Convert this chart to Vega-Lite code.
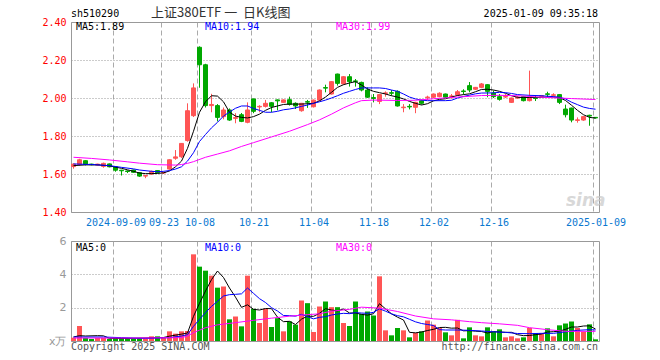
{
  "$schema": "https://vega.github.io/schema/vega-lite/v6.json",
  "background": "white",
  "padding": {"left": 41, "top": 6, "right": 0, "bottom": 0},
  "bounds": "flush",
  "spacing": 29,
  "config": {
    "view": {"stroke": "#999999", "strokeWidth": 1},
    "font": "DejaVu Sans Mono",
    "axis": {"ticks": false, "domain": false, "labelFont": "DejaVu Sans Mono", "labelFontSize": 10, "title": null, "labelOverlap": false}
  },
  "datasets": {
    "k": [
      {"d":"2024-08-29","o":1.639,"h":1.656,"l":1.628,"c":1.652,"v":0.2},
      {"d":"2024-08-30","o":1.650,"h":1.680,"l":1.645,"c":1.675,"v":0.9},
      {"d":"2024-09-02","o":1.670,"h":1.672,"l":1.645,"c":1.650,"v":0.18},
      {"d":"2024-09-03","o":1.652,"h":1.654,"l":1.646,"c":1.649,"v":0.12},
      {"d":"2024-09-04","o":1.647,"h":1.654,"l":1.644,"c":1.652,"v":0.18},
      {"d":"2024-09-05","o":1.640,"h":1.660,"l":1.633,"c":1.656,"v":0.18},
      {"d":"2024-09-06","o":1.653,"h":1.655,"l":1.635,"c":1.638,"v":0.14},
      {"d":"2024-09-09","o":1.638,"h":1.640,"l":1.612,"c":1.620,"v":0.18},
      {"d":"2024-09-10","o":1.620,"h":1.622,"l":1.592,"c":1.617,"v":0.18},
      {"d":"2024-09-11","o":1.616,"h":1.618,"l":1.605,"c":1.613,"v":0.18},
      {"d":"2024-09-12","o":1.621,"h":1.623,"l":1.606,"c":1.609,"v":0.14},
      {"d":"2024-09-13","o":1.607,"h":1.609,"l":1.585,"c":1.589,"v":0.18},
      {"d":"2024-09-18","o":1.589,"h":1.594,"l":1.578,"c":1.592,"v":0.14},
      {"d":"2024-09-19","o":1.600,"h":1.618,"l":1.596,"c":1.614,"v":0.28},
      {"d":"2024-09-20","o":1.618,"h":1.620,"l":1.604,"c":1.607,"v":0.28},
      {"d":"2024-09-23","o":1.605,"h":1.612,"l":1.600,"c":1.608,"v":0.18},
      {"d":"2024-09-24","o":1.626,"h":1.677,"l":1.622,"c":1.675,"v":0.58},
      {"d":"2024-09-25","o":1.683,"h":1.726,"l":1.675,"c":1.690,"v":0.44},
      {"d":"2024-09-26","o":1.691,"h":1.763,"l":1.684,"c":1.761,"v":0.58},
      {"d":"2024-09-27","o":1.776,"h":1.972,"l":1.770,"c":1.933,"v":0.6},
      {"d":"2024-09-30","o":1.907,"h":2.077,"l":1.900,"c":2.053,"v":5.2},
      {"d":"2024-10-08","o":2.267,"h":2.272,"l":2.054,"c":2.175,"v":4.46},
      {"d":"2024-10-09","o":2.175,"h":2.180,"l":1.950,"c":1.960,"v":4.22},
      {"d":"2024-10-10","o":1.960,"h":2.022,"l":1.925,"c":1.966,"v":3.92},
      {"d":"2024-10-11","o":1.960,"h":1.968,"l":1.877,"c":1.898,"v":3.2},
      {"d":"2024-10-14","o":1.902,"h":1.950,"l":1.888,"c":1.937,"v":3.27},
      {"d":"2024-10-15","o":1.937,"h":1.945,"l":1.880,"c":1.884,"v":1.3},
      {"d":"2024-10-16","o":1.893,"h":1.920,"l":1.867,"c":1.897,"v":1.47},
      {"d":"2024-10-17","o":1.912,"h":1.921,"l":1.873,"c":1.877,"v":0.88},
      {"d":"2024-10-18","o":1.872,"h":1.977,"l":1.867,"c":1.937,"v":3.92},
      {"d":"2024-10-21","o":1.995,"h":1.997,"l":1.920,"c":1.930,"v":1.93},
      {"d":"2024-10-22","o":1.953,"h":1.962,"l":1.925,"c":1.956,"v":1.08},
      {"d":"2024-10-23","o":1.956,"h":1.990,"l":1.950,"c":1.972,"v":1.93},
      {"d":"2024-10-24","o":1.975,"h":1.978,"l":1.925,"c":1.956,"v":0.84},
      {"d":"2024-10-25","o":1.990,"h":1.992,"l":1.935,"c":1.985,"v":1.37},
      {"d":"2024-10-28","o":1.977,"h":1.992,"l":1.975,"c":1.990,"v":0.58},
      {"d":"2024-10-29","o":1.991,"h":2.007,"l":1.960,"c":1.967,"v":1.18},
      {"d":"2024-10-30","o":1.972,"h":1.977,"l":1.942,"c":1.958,"v":0.98},
      {"d":"2024-10-31","o":1.933,"h":1.974,"l":1.928,"c":1.972,"v":2.43},
      {"d":"2024-11-01","o":1.981,"h":1.990,"l":1.948,"c":1.978,"v":2.27},
      {"d":"2024-11-04","o":1.954,"h":1.992,"l":1.950,"c":1.989,"v":0.54},
      {"d":"2024-11-05","o":1.989,"h":2.045,"l":1.985,"c":2.042,"v":2.07},
      {"d":"2024-11-06","o":2.055,"h":2.070,"l":2.030,"c":2.052,"v":2.37},
      {"d":"2024-11-07","o":2.021,"h":2.088,"l":2.018,"c":2.086,"v":2.03},
      {"d":"2024-11-08","o":2.126,"h":2.128,"l":2.065,"c":2.077,"v":2.03},
      {"d":"2024-11-11","o":2.074,"h":2.115,"l":2.070,"c":2.112,"v":1.08},
      {"d":"2024-11-12","o":2.112,"h":2.126,"l":2.060,"c":2.086,"v":0.9},
      {"d":"2024-11-13","o":2.090,"h":2.100,"l":2.060,"c":2.087,"v":2.37},
      {"d":"2024-11-14","o":2.082,"h":2.086,"l":2.035,"c":2.042,"v":1.63},
      {"d":"2024-11-15","o":2.042,"h":2.056,"l":2.000,"c":2.004,"v":1.77},
      {"d":"2024-11-18","o":2.002,"h":2.021,"l":1.977,"c":1.998,"v":1.53},
      {"d":"2024-11-19","o":1.982,"h":2.020,"l":1.968,"c":2.018,"v":3.88},
      {"d":"2024-11-20","o":2.024,"h":2.035,"l":2.007,"c":2.027,"v":0.64},
      {"d":"2024-11-21","o":2.028,"h":2.042,"l":2.012,"c":2.025,"v":0.34},
      {"d":"2024-11-22","o":2.035,"h":2.040,"l":1.955,"c":1.958,"v":0.78},
      {"d":"2024-11-25","o":1.949,"h":1.968,"l":1.925,"c":1.952,"v":0.64},
      {"d":"2024-11-26","o":1.956,"h":1.968,"l":1.940,"c":1.953,"v":0.22},
      {"d":"2024-11-27","o":1.951,"h":1.980,"l":1.920,"c":1.977,"v":0.48},
      {"d":"2024-11-28","o":1.986,"h":1.991,"l":1.965,"c":1.972,"v":0.58},
      {"d":"2024-11-29","o":2.002,"h":2.012,"l":1.990,"c":2.005,"v":1.23},
      {"d":"2024-12-02","o":2.004,"h":2.024,"l":2.000,"c":2.021,"v":0.98},
      {"d":"2024-12-03","o":2.007,"h":2.030,"l":2.004,"c":2.025,"v":0.78},
      {"d":"2024-12-04","o":2.021,"h":2.023,"l":2.000,"c":2.004,"v":0.52},
      {"d":"2024-12-05","o":2.008,"h":2.021,"l":1.996,"c":2.011,"v":0.34},
      {"d":"2024-12-06","o":2.016,"h":2.042,"l":2.012,"c":2.033,"v":1.27},
      {"d":"2024-12-09","o":2.037,"h":2.046,"l":2.018,"c":2.034,"v":0.16},
      {"d":"2024-12-10","o":2.065,"h":2.084,"l":2.030,"c":2.042,"v":0.82},
      {"d":"2024-12-11","o":2.046,"h":2.058,"l":2.042,"c":2.056,"v":0.34},
      {"d":"2024-12-12","o":2.056,"h":2.079,"l":2.052,"c":2.074,"v":0.28},
      {"d":"2024-12-13","o":2.070,"h":2.072,"l":2.004,"c":2.035,"v":0.82},
      {"d":"2024-12-16","o":2.026,"h":2.039,"l":2.000,"c":2.007,"v":0.56},
      {"d":"2024-12-17","o":2.007,"h":2.021,"l":1.986,"c":1.993,"v":0.7},
      {"d":"2024-12-18","o":2.005,"h":2.021,"l":2.000,"c":2.008,"v":0.22},
      {"d":"2024-12-19","o":1.977,"h":2.002,"l":1.974,"c":2.000,"v":0.28},
      {"d":"2024-12-20","o":2.000,"h":2.010,"l":1.995,"c":2.004,"v":0.16},
      {"d":"2024-12-23","o":2.007,"h":2.010,"l":1.982,"c":1.986,"v":0.22},
      {"d":"2024-12-24","o":1.986,"h":2.144,"l":1.982,"c":2.004,"v":0.78},
      {"d":"2024-12-25","o":2.002,"h":2.012,"l":1.984,"c":1.998,"v":0.48},
      {"d":"2024-12-26","o":2.009,"h":2.016,"l":2.005,"c":2.012,"v":0.48},
      {"d":"2024-12-27","o":2.022,"h":2.033,"l":2.004,"c":2.019,"v":0.76},
      {"d":"2024-12-30","o":2.014,"h":2.025,"l":2.010,"c":2.017,"v":0.28},
      {"d":"2024-12-31","o":2.018,"h":2.020,"l":1.968,"c":1.977,"v":0.94},
      {"d":"2025-01-02","o":1.942,"h":1.965,"l":1.898,"c":1.912,"v":1.05},
      {"d":"2025-01-03","o":1.947,"h":1.949,"l":1.872,"c":1.884,"v":1.17},
      {"d":"2025-01-06","o":1.882,"h":1.898,"l":1.870,"c":1.885,"v":0.78},
      {"d":"2025-01-07","o":1.884,"h":1.904,"l":1.880,"c":1.902,"v":0.56},
      {"d":"2025-01-08","o":1.909,"h":1.912,"l":1.854,"c":1.905,"v":1.0},
      {"d":"2025-01-09","o":1.898,"h":1.900,"l":1.893,"c":1.895,"v":0.1}
    ],
    "ma": [
      {"d":"2024-08-29","s":"MA5","p":1.644},{"d":"2024-09-02","s":"MA5","p":1.648},{"d":"2024-09-04","s":"MA5","p":1.648},{"d":"2024-09-06","s":"MA5","p":1.643},{"d":"2024-09-09","s":"MA5","p":1.636},{"d":"2024-09-10","s":"MA5","p":1.630},{"d":"2024-09-11","s":"MA5","p":1.622},{"d":"2024-09-12","s":"MA5","p":1.614},{"d":"2024-09-13","s":"MA5","p":1.605},{"d":"2024-09-18","s":"MA5","p":1.602},{"d":"2024-09-19","s":"MA5","p":1.602},{"d":"2024-09-20","s":"MA5","p":1.603},{"d":"2024-09-23","s":"MA5","p":1.606},{"d":"2024-09-24","s":"MA5","p":1.616},{"d":"2024-09-25","s":"MA5","p":1.638},{"d":"2024-09-26","s":"MA5","p":1.668},{"d":"2024-09-27","s":"MA5","p":1.735},{"d":"2024-09-30","s":"MA5","p":1.825},{"d":"2024-10-08","s":"MA5","p":1.925},{"d":"2024-10-09","s":"MA5","p":1.980},{"d":"2024-10-10","s":"MA5","p":2.012},{"d":"2024-10-11","s":"MA5","p":2.010},{"d":"2024-10-14","s":"MA5","p":1.980},{"d":"2024-10-15","s":"MA5","p":1.925},{"d":"2024-10-16","s":"MA5","p":1.905},{"d":"2024-10-17","s":"MA5","p":1.898},{"d":"2024-10-18","s":"MA5","p":1.895},{"d":"2024-10-21","s":"MA5","p":1.902},{"d":"2024-10-22","s":"MA5","p":1.915},{"d":"2024-10-23","s":"MA5","p":1.935},{"d":"2024-10-24","s":"MA5","p":1.950},{"d":"2024-10-25","s":"MA5","p":1.958},{"d":"2024-10-28","s":"MA5","p":1.966},{"d":"2024-10-29","s":"MA5","p":1.968},{"d":"2024-10-30","s":"MA5","p":1.968},{"d":"2024-10-31","s":"MA5","p":1.968},{"d":"2024-11-01","s":"MA5","p":1.970},{"d":"2024-11-04","s":"MA5","p":1.972},{"d":"2024-11-05","s":"MA5","p":1.985},{"d":"2024-11-06","s":"MA5","p":2.005},{"d":"2024-11-07","s":"MA5","p":2.030},{"d":"2024-11-08","s":"MA5","p":2.056},{"d":"2024-11-11","s":"MA5","p":2.070},{"d":"2024-11-12","s":"MA5","p":2.079},{"d":"2024-11-13","s":"MA5","p":2.086},{"d":"2024-11-14","s":"MA5","p":2.068},{"d":"2024-11-15","s":"MA5","p":2.048},{"d":"2024-11-18","s":"MA5","p":2.035},{"d":"2024-11-19","s":"MA5","p":2.028},{"d":"2024-11-20","s":"MA5","p":2.021},{"d":"2024-11-21","s":"MA5","p":2.012},{"d":"2024-11-22","s":"MA5","p":2.005},{"d":"2024-11-25","s":"MA5","p":1.995},{"d":"2024-11-26","s":"MA5","p":1.982},{"d":"2024-11-27","s":"MA5","p":1.972},{"d":"2024-11-28","s":"MA5","p":1.963},{"d":"2024-11-29","s":"MA5","p":1.970},{"d":"2024-12-02","s":"MA5","p":1.985},{"d":"2024-12-03","s":"MA5","p":1.993},{"d":"2024-12-04","s":"MA5","p":1.996},{"d":"2024-12-05","s":"MA5","p":2.005},{"d":"2024-12-06","s":"MA5","p":2.013},{"d":"2024-12-09","s":"MA5","p":2.018},{"d":"2024-12-10","s":"MA5","p":2.022},{"d":"2024-12-11","s":"MA5","p":2.033},{"d":"2024-12-12","s":"MA5","p":2.045},{"d":"2024-12-13","s":"MA5","p":2.046},{"d":"2024-12-16","s":"MA5","p":2.042},{"d":"2024-12-17","s":"MA5","p":2.035},{"d":"2024-12-18","s":"MA5","p":2.025},{"d":"2024-12-19","s":"MA5","p":2.012},{"d":"2024-12-20","s":"MA5","p":2.004},{"d":"2024-12-23","s":"MA5","p":2.002},{"d":"2024-12-24","s":"MA5","p":2.003},{"d":"2024-12-25","s":"MA5","p":2.003},{"d":"2024-12-26","s":"MA5","p":2.004},{"d":"2024-12-27","s":"MA5","p":2.005},{"d":"2024-12-30","s":"MA5","p":2.005},{"d":"2024-12-31","s":"MA5","p":2.002},{"d":"2025-01-02","s":"MA5","p":1.987},{"d":"2025-01-03","s":"MA5","p":1.962},{"d":"2025-01-06","s":"MA5","p":1.935},{"d":"2025-01-07","s":"MA5","p":1.912},{"d":"2025-01-08","s":"MA5","p":1.898},{"d":"2025-01-09","s":"MA5","p":1.894},
      {"d":"2024-08-29","s":"MA10","p":1.653},{"d":"2024-09-03","s":"MA10","p":1.650},{"d":"2024-09-06","s":"MA10","p":1.644},{"d":"2024-09-10","s":"MA10","p":1.635},{"d":"2024-09-12","s":"MA10","p":1.627},{"d":"2024-09-13","s":"MA10","p":1.621},{"d":"2024-09-19","s":"MA10","p":1.614},{"d":"2024-09-20","s":"MA10","p":1.612},{"d":"2024-09-23","s":"MA10","p":1.614},{"d":"2024-09-24","s":"MA10","p":1.618},{"d":"2024-09-25","s":"MA10","p":1.626},{"d":"2024-09-26","s":"MA10","p":1.638},{"d":"2024-09-27","s":"MA10","p":1.668},{"d":"2024-09-30","s":"MA10","p":1.712},{"d":"2024-10-08","s":"MA10","p":1.771},{"d":"2024-10-09","s":"MA10","p":1.808},{"d":"2024-10-10","s":"MA10","p":1.843},{"d":"2024-10-11","s":"MA10","p":1.872},{"d":"2024-10-14","s":"MA10","p":1.905},{"d":"2024-10-15","s":"MA10","p":1.926},{"d":"2024-10-16","s":"MA10","p":1.946},{"d":"2024-10-17","s":"MA10","p":1.958},{"d":"2024-10-18","s":"MA10","p":1.958},{"d":"2024-10-21","s":"MA10","p":1.945},{"d":"2024-10-22","s":"MA10","p":1.935},{"d":"2024-10-23","s":"MA10","p":1.925},{"d":"2024-10-24","s":"MA10","p":1.925},{"d":"2024-10-25","s":"MA10","p":1.930},{"d":"2024-10-28","s":"MA10","p":1.938},{"d":"2024-10-29","s":"MA10","p":1.942},{"d":"2024-10-30","s":"MA10","p":1.948},{"d":"2024-10-31","s":"MA10","p":1.956},{"d":"2024-11-01","s":"MA10","p":1.963},{"d":"2024-11-04","s":"MA10","p":1.972},{"d":"2024-11-05","s":"MA10","p":1.980},{"d":"2024-11-06","s":"MA10","p":1.989},{"d":"2024-11-07","s":"MA10","p":2.000},{"d":"2024-11-08","s":"MA10","p":2.012},{"d":"2024-11-11","s":"MA10","p":2.025},{"d":"2024-11-12","s":"MA10","p":2.035},{"d":"2024-11-13","s":"MA10","p":2.045},{"d":"2024-11-14","s":"MA10","p":2.053},{"d":"2024-11-15","s":"MA10","p":2.053},{"d":"2024-11-18","s":"MA10","p":2.053},{"d":"2024-11-19","s":"MA10","p":2.053},{"d":"2024-11-20","s":"MA10","p":2.050},{"d":"2024-11-21","s":"MA10","p":2.042},{"d":"2024-11-22","s":"MA10","p":2.035},{"d":"2024-11-25","s":"MA10","p":2.021},{"d":"2024-11-26","s":"MA10","p":2.005},{"d":"2024-11-27","s":"MA10","p":1.995},{"d":"2024-11-28","s":"MA10","p":1.989},{"d":"2024-11-29","s":"MA10","p":1.986},{"d":"2024-12-02","s":"MA10","p":1.986},{"d":"2024-12-04","s":"MA10","p":1.986},{"d":"2024-12-05","s":"MA10","p":1.988},{"d":"2024-12-06","s":"MA10","p":2.000},{"d":"2024-12-09","s":"MA10","p":2.008},{"d":"2024-12-10","s":"MA10","p":2.015},{"d":"2024-12-11","s":"MA10","p":2.022},{"d":"2024-12-12","s":"MA10","p":2.026},{"d":"2024-12-16","s":"MA10","p":2.027},{"d":"2024-12-17","s":"MA10","p":2.030},{"d":"2024-12-18","s":"MA10","p":2.028},{"d":"2024-12-19","s":"MA10","p":2.024},{"d":"2024-12-20","s":"MA10","p":2.018},{"d":"2024-12-24","s":"MA10","p":2.014},{"d":"2024-12-26","s":"MA10","p":2.012},{"d":"2024-12-30","s":"MA10","p":2.007},{"d":"2024-12-31","s":"MA10","p":2.004},{"d":"2025-01-02","s":"MA10","p":1.995},{"d":"2025-01-03","s":"MA10","p":1.978},{"d":"2025-01-06","s":"MA10","p":1.965},{"d":"2025-01-07","s":"MA10","p":1.952},{"d":"2025-01-08","s":"MA10","p":1.945},{"d":"2025-01-09","s":"MA10","p":1.941},
      {"d":"2024-08-29","s":"MA30","p":1.688},{"d":"2024-09-03","s":"MA30","p":1.682},{"d":"2024-09-06","s":"MA30","p":1.674},{"d":"2024-09-11","s":"MA30","p":1.664},{"d":"2024-09-13","s":"MA30","p":1.657},{"d":"2024-09-20","s":"MA30","p":1.649},{"d":"2024-09-25","s":"MA30","p":1.647},{"d":"2024-09-26","s":"MA30","p":1.650},{"d":"2024-09-27","s":"MA30","p":1.656},{"d":"2024-09-30","s":"MA30","p":1.665},{"d":"2024-10-09","s":"MA30","p":1.688},{"d":"2024-10-11","s":"MA30","p":1.705},{"d":"2024-10-15","s":"MA30","p":1.722},{"d":"2024-10-17","s":"MA30","p":1.745},{"d":"2024-10-21","s":"MA30","p":1.765},{"d":"2024-10-24","s":"MA30","p":1.795},{"d":"2024-10-29","s":"MA30","p":1.825},{"d":"2024-11-01","s":"MA30","p":1.860},{"d":"2024-11-05","s":"MA30","p":1.885},{"d":"2024-11-07","s":"MA30","p":1.915},{"d":"2024-11-11","s":"MA30","p":1.948},{"d":"2024-11-13","s":"MA30","p":1.975},{"d":"2024-11-14","s":"MA30","p":1.986},{"d":"2024-11-18","s":"MA30","p":1.989},{"d":"2024-11-22","s":"MA30","p":1.987},{"d":"2024-11-27","s":"MA30","p":1.988},{"d":"2024-12-02","s":"MA30","p":1.996},{"d":"2024-12-06","s":"MA30","p":2.005},{"d":"2024-12-12","s":"MA30","p":2.013},{"d":"2024-12-17","s":"MA30","p":2.014},{"d":"2024-12-20","s":"MA30","p":2.012},{"d":"2024-12-25","s":"MA30","p":2.006},{"d":"2024-12-30","s":"MA30","p":2.001},{"d":"2025-01-03","s":"MA30","p":1.997},{"d":"2025-01-09","s":"MA30","p":1.992}
    ],
    "vma": [
      {"d":"2024-08-29","s":"MA5","v":0.24},{"d":"2024-08-30","s":"MA5","v":0.32},{"d":"2024-09-02","s":"MA5","v":0.30},{"d":"2024-09-04","s":"MA5","v":0.32},{"d":"2024-09-05","s":"MA5","v":0.31},{"d":"2024-09-06","s":"MA5","v":0.16},{"d":"2024-09-09","s":"MA5","v":0.16},{"d":"2024-09-12","s":"MA5","v":0.16},{"d":"2024-09-20","s":"MA5","v":0.2},{"d":"2024-09-23","s":"MA5","v":0.21},{"d":"2024-09-24","s":"MA5","v":0.29},{"d":"2024-09-25","s":"MA5","v":0.35},{"d":"2024-09-26","s":"MA5","v":0.41},{"d":"2024-09-27","s":"MA5","v":0.48},{"d":"2024-09-30","s":"MA5","v":1.48},{"d":"2024-10-08","s":"MA5","v":2.26},{"d":"2024-10-09","s":"MA5","v":3.0},{"d":"2024-10-10","s":"MA5","v":3.68},{"d":"2024-10-11","s":"MA5","v":4.2},{"d":"2024-10-14","s":"MA5","v":3.81},{"d":"2024-10-15","s":"MA5","v":3.18},{"d":"2024-10-16","s":"MA5","v":2.63},{"d":"2024-10-17","s":"MA5","v":2.02},{"d":"2024-10-18","s":"MA5","v":2.17},{"d":"2024-10-21","s":"MA5","v":1.9},{"d":"2024-10-22","s":"MA5","v":1.86},{"d":"2024-10-23","s":"MA5","v":1.95},{"d":"2024-10-24","s":"MA5","v":1.94},{"d":"2024-10-25","s":"MA5","v":1.43},{"d":"2024-10-28","s":"MA5","v":1.16},{"d":"2024-10-29","s":"MA5","v":1.18},{"d":"2024-10-30","s":"MA5","v":0.99},{"d":"2024-10-31","s":"MA5","v":1.31},{"d":"2024-11-01","s":"MA5","v":1.49},{"d":"2024-11-04","s":"MA5","v":1.48},{"d":"2024-11-05","s":"MA5","v":1.66},{"d":"2024-11-06","s":"MA5","v":1.94},{"d":"2024-11-07","s":"MA5","v":1.86},{"d":"2024-11-08","s":"MA5","v":1.81},{"d":"2024-11-11","s":"MA5","v":1.92},{"d":"2024-11-12","s":"MA5","v":1.68},{"d":"2024-11-13","s":"MA5","v":1.68},{"d":"2024-11-14","s":"MA5","v":1.6},{"d":"2024-11-15","s":"MA5","v":1.55},{"d":"2024-11-18","s":"MA5","v":1.64},{"d":"2024-11-19","s":"MA5","v":2.24},{"d":"2024-11-20","s":"MA5","v":1.93},{"d":"2024-11-21","s":"MA5","v":1.63},{"d":"2024-11-22","s":"MA5","v":1.43},{"d":"2024-11-25","s":"MA5","v":1.26},{"d":"2024-11-26","s":"MA5","v":0.52},{"d":"2024-11-27","s":"MA5","v":0.49},{"d":"2024-11-28","s":"MA5","v":0.54},{"d":"2024-11-29","s":"MA5","v":0.63},{"d":"2024-12-02","s":"MA5","v":0.70},{"d":"2024-12-03","s":"MA5","v":0.81},{"d":"2024-12-04","s":"MA5","v":0.82},{"d":"2024-12-05","s":"MA5","v":0.77},{"d":"2024-12-06","s":"MA5","v":0.78},{"d":"2024-12-09","s":"MA5","v":0.61},{"d":"2024-12-10","s":"MA5","v":0.62},{"d":"2024-12-11","s":"MA5","v":0.59},{"d":"2024-12-12","s":"MA5","v":0.57},{"d":"2024-12-13","s":"MA5","v":0.48},{"d":"2024-12-16","s":"MA5","v":0.56},{"d":"2024-12-17","s":"MA5","v":0.54},{"d":"2024-12-18","s":"MA5","v":0.52},{"d":"2024-12-19","s":"MA5","v":0.52},{"d":"2024-12-20","s":"MA5","v":0.38},{"d":"2024-12-23","s":"MA5","v":0.32},{"d":"2024-12-24","s":"MA5","v":0.33},{"d":"2024-12-25","s":"MA5","v":0.38},{"d":"2024-12-26","s":"MA5","v":0.42},{"d":"2024-12-27","s":"MA5","v":0.54},{"d":"2024-12-30","s":"MA5","v":0.56},{"d":"2024-12-31","s":"MA5","v":0.59},{"d":"2025-01-02","s":"MA5","v":0.70},{"d":"2025-01-03","s":"MA5","v":0.84},{"d":"2025-01-06","s":"MA5","v":0.84},{"d":"2025-01-07","s":"MA5","v":0.9},{"d":"2025-01-08","s":"MA5","v":0.91},{"d":"2025-01-09","s":"MA5","v":0.72},
      {"d":"2024-08-29","s":"MA10","v":0.24},{"d":"2024-09-05","s":"MA10","v":0.24},{"d":"2024-09-10","s":"MA10","v":0.2},{"d":"2024-09-18","s":"MA10","v":0.16},{"d":"2024-09-24","s":"MA10","v":0.2},{"d":"2024-09-26","s":"MA10","v":0.3},{"d":"2024-09-27","s":"MA10","v":0.38},{"d":"2024-09-30","s":"MA10","v":0.88},{"d":"2024-10-08","s":"MA10","v":1.3},{"d":"2024-10-09","s":"MA10","v":1.7},{"d":"2024-10-10","s":"MA10","v":2.08},{"d":"2024-10-11","s":"MA10","v":2.38},{"d":"2024-10-14","s":"MA10","v":2.7},{"d":"2024-10-15","s":"MA10","v":2.78},{"d":"2024-10-16","s":"MA10","v":2.8},{"d":"2024-10-17","s":"MA10","v":2.83},{"d":"2024-10-18","s":"MA10","v":3.18},{"d":"2024-10-21","s":"MA10","v":2.86},{"d":"2024-10-22","s":"MA10","v":2.54},{"d":"2024-10-23","s":"MA10","v":2.31},{"d":"2024-10-24","s":"MA10","v":2.0},{"d":"2024-10-25","s":"MA10","v":1.8},{"d":"2024-10-28","s":"MA10","v":1.53},{"d":"2024-10-29","s":"MA10","v":1.52},{"d":"2024-10-30","s":"MA10","v":1.49},{"d":"2024-10-31","s":"MA10","v":1.6},{"d":"2024-11-01","s":"MA10","v":1.46},{"d":"2024-11-04","s":"MA10","v":1.33},{"d":"2024-11-05","s":"MA10","v":1.42},{"d":"2024-11-06","s":"MA10","v":1.46},{"d":"2024-11-07","s":"MA10","v":1.56},{"d":"2024-11-08","s":"MA10","v":1.62},{"d":"2024-11-11","s":"MA10","v":1.66},{"d":"2024-11-12","s":"MA10","v":1.64},{"d":"2024-11-13","s":"MA10","v":1.7},{"d":"2024-11-14","s":"MA10","v":1.68},{"d":"2024-11-15","s":"MA10","v":1.66},{"d":"2024-11-18","s":"MA10","v":1.72},{"d":"2024-11-19","s":"MA10","v":1.93},{"d":"2024-11-20","s":"MA10","v":1.79},{"d":"2024-11-21","s":"MA10","v":1.63},{"d":"2024-11-22","s":"MA10","v":1.52},{"d":"2024-11-25","s":"MA10","v":1.45},{"d":"2024-11-26","s":"MA10","v":1.3},{"d":"2024-11-27","s":"MA10","v":1.15},{"d":"2024-11-28","s":"MA10","v":1.05},{"d":"2024-11-29","s":"MA10","v":0.99},{"d":"2024-12-02","s":"MA10","v":0.93},{"d":"2024-12-03","s":"MA10","v":0.68},{"d":"2024-12-04","s":"MA10","v":0.66},{"d":"2024-12-06","s":"MA10","v":0.66},{"d":"2024-12-10","s":"MA10","v":0.64},{"d":"2024-12-12","s":"MA10","v":0.6},{"d":"2024-12-16","s":"MA10","v":0.55},{"d":"2024-12-18","s":"MA10","v":0.52},{"d":"2024-12-20","s":"MA10","v":0.45},{"d":"2024-12-24","s":"MA10","v":0.44},{"d":"2024-12-26","s":"MA10","v":0.46},{"d":"2024-12-30","s":"MA10","v":0.46},{"d":"2025-01-02","s":"MA10","v":0.55},{"d":"2025-01-06","s":"MA10","v":0.64},{"d":"2025-01-08","s":"MA10","v":0.68},{"d":"2025-01-09","s":"MA10","v":0.66},
      {"d":"2024-08-29","s":"MA30","v":0.18},{"d":"2024-09-12","s":"MA30","v":0.18},{"d":"2024-09-26","s":"MA30","v":0.2},{"d":"2024-09-27","s":"MA30","v":0.3},{"d":"2024-09-30","s":"MA30","v":0.5},{"d":"2024-10-08","s":"MA30","v":0.65},{"d":"2024-10-09","s":"MA30","v":0.8},{"d":"2024-10-11","s":"MA30","v":0.97},{"d":"2024-10-16","s":"MA30","v":1.1},{"d":"2024-10-21","s":"MA30","v":1.24},{"d":"2024-10-24","s":"MA30","v":1.37},{"d":"2024-10-29","s":"MA30","v":1.49},{"d":"2024-11-01","s":"MA30","v":1.58},{"d":"2024-11-05","s":"MA30","v":1.63},{"d":"2024-11-07","s":"MA30","v":1.79},{"d":"2024-11-12","s":"MA30","v":1.9},{"d":"2024-11-14","s":"MA30","v":2.03},{"d":"2024-11-19","s":"MA30","v":1.97},{"d":"2024-11-22","s":"MA30","v":1.77},{"d":"2024-11-27","s":"MA30","v":1.5},{"d":"2024-12-02","s":"MA30","v":1.33},{"d":"2024-12-05","s":"MA30","v":1.27},{"d":"2024-12-10","s":"MA30","v":1.16},{"d":"2024-12-12","s":"MA30","v":1.1},{"d":"2024-12-17","s":"MA30","v":1.03},{"d":"2024-12-20","s":"MA30","v":0.94},{"d":"2024-12-24","s":"MA30","v":0.8},{"d":"2024-12-27","s":"MA30","v":0.68},{"d":"2025-01-02","s":"MA30","v":0.58},{"d":"2025-01-09","s":"MA30","v":0.58}
    ]
  },
  "vconcat": [
    {
      "width": 528,
      "height": 190,
      "encoding": {
        "x": {
          "field": "d", "type": "ordinal",
          "scale": {"type": "band", "paddingInner": 0, "paddingOuter": 0},
          "axis": {
            "values": ["2024-09-09","2024-09-23","2024-10-08","2024-10-21","2024-11-04","2024-11-18","2024-12-02","2024-12-16","2025-01-09"],
            "labelExpr": "datum.value == '2024-09-09' || datum.value == '2025-01-09' ? datum.value : slice(datum.value, 5)",
            "bandPosition": 0, "labelAngle": 0, "labelColor": "#0a78d0", "labelPadding": 5, "labelOverlap": false,
            "grid": true, "gridColor": "#aaaaaa", "gridDash": [5, 3]
          }
        }
      },
      "layer": [
        {
          "data": {"name": "k"},
          "mark": {"type": "rule", "strokeWidth": 1, "xOffset": -0.5},
          "encoding": {
            "y": {"field": "l", "type": "quantitative", "scale": {"domain": [1.4, 2.4], "nice": false, "zero": false},
              "axis": {"values": [1.4, 1.6, 1.8, 2.0, 2.2, 2.4], "tickCount": 20, "format": ".2f", "labelColor": "#ff0000", "labelPadding": 5, "labelOverlap": false, "labelFlush": false, "grid": true, "gridColor": "#999999", "gridDash": [1, 2]}},
            "y2": {"field": "h"},
            "color": {"condition": {"test": "datum.c >= datum.o", "value": "#ff5555"}, "value": "#00a800"}
          }
        },
        {
          "data": {"name": "k"},
          "mark": {"type": "bar", "width": 4, "strokeWidth": 1, "xOffset": -0.5},
          "encoding": {
            "y": {"field": "o", "type": "quantitative"},
            "y2": {"field": "c"},
            "fill": {"condition": {"test": "datum.c >= datum.o", "value": "#ff5555"}, "value": "#00a800"},
            "stroke": {"condition": {"test": "datum.c >= datum.o", "value": "#ff5555"}, "value": "#00a800"}
          }
        },
        {
          "data": {"name": "ma"},
          "mark": {"type": "line", "strokeWidth": 1, "xOffset": -0.5},
          "encoding": {
            "y": {"field": "p", "type": "quantitative"},
            "color": {"field": "s", "type": "nominal", "scale": {"domain": ["MA5", "MA10", "MA30"], "range": ["#000000", "#0000ff", "#ff00ff"]}, "legend": null}
          }
        },
        {
          "data": {"values": [{}]},
          "mark": {"type": "text", "text": "sh510290", "align": "left", "baseline": "middle", "fontSize": 10, "font": "DejaVu Sans Mono", "color": "#000000"},
          "encoding": {"x": {"datum": "2024-08-29", "bandPosition": 0}, "y": {"datum": 2.442}}
        },
        {
          "data": {"values": [{}]},
          "mark": {"type": "text", "text": "上证380ETF\u00a0一\u00a0\u00a0日K线图", "align": "left", "baseline": "middle", "fontSize": 13, "font": "Noto Sans CJK SC", "color": "#333333", "dx": 2},
          "encoding": {"x": {"datum": "2024-09-19", "bandPosition": 0}, "y": {"datum": 2.446}}
        },
        {
          "data": {"values": [{}]},
          "mark": {"type": "text", "text": "2025-01-09 09:35:18", "align": "right", "baseline": "middle", "fontSize": 10, "font": "DejaVu Sans Mono", "color": "#000000", "dx": -1},
          "encoding": {"x": {"datum": "2025-01-09", "bandPosition": 1}, "y": {"datum": 2.444}}
        },
        {
          "data": {"values": [{}]},
          "mark": {"type": "text", "text": "MA5:1.89", "align": "left", "baseline": "middle", "fontSize": 10, "font": "DejaVu Sans Mono", "color": "#000000", "dx": 5},
          "encoding": {"x": {"datum": "2024-08-29", "bandPosition": 0}, "y": {"datum": 2.374}}
        },
        {
          "data": {"values": [{}]},
          "mark": {"type": "text", "text": "MA10:1.94", "align": "left", "baseline": "middle", "fontSize": 10, "font": "DejaVu Sans Mono", "color": "#0000ff", "dx": 2},
          "encoding": {"x": {"datum": "2024-10-09", "bandPosition": 0}, "y": {"datum": 2.374}}
        },
        {
          "data": {"values": [{}]},
          "mark": {"type": "text", "text": "MA30:1.99", "align": "left", "baseline": "middle", "fontSize": 10, "font": "DejaVu Sans Mono", "color": "#ff00ff", "dx": 1},
          "encoding": {"x": {"datum": "2024-11-08", "bandPosition": 0}, "y": {"datum": 2.374}}
        },
        {
          "data": {"values": [{}]},
          "mark": {"type": "text", "text": "sina", "align": "left", "baseline": "middle", "fontSize": 17, "font": "DejaVu Sans", "fontStyle": "italic", "fontWeight": "bold", "color": "#c8c8c8", "opacity": 0.7, "dx": 3},
          "encoding": {"x": {"datum": "2025-01-02", "bandPosition": 0}, "y": {"datum": 1.46}}
        }
      ]
    },
    {
      "width": 528,
      "height": 100,
      "encoding": {
        "x": {
          "field": "d", "type": "ordinal",
          "scale": {"type": "band", "paddingInner": 0, "paddingOuter": 0},
          "axis": {
            "values": ["2024-09-09","2024-09-23","2024-10-08","2024-10-21","2024-11-04","2024-11-18","2024-12-02","2024-12-16","2025-01-09"],
            "labels": false, "bandPosition": 0,
            "grid": true, "gridColor": "#aaaaaa", "gridDash": [5, 3]
          }
        }
      },
      "layer": [
        {
          "data": {"name": "k"},
          "mark": {"type": "bar", "width": 5, "xOffset": -0.5},
          "encoding": {
            "y": {"field": "v", "type": "quantitative", "scale": {"domain": [0, 6], "nice": false},
              "axis": {"values": [0, 2, 4, 6], "tickCount": 20, "format": "d", "labelColor": "#999999", "labelFontSize": 11, "labelFont": "DejaVu Sans", "labelPadding": 5, "labelOverlap": false, "labelFlush": false, "labelExpr": "datum.value == 0 ? 'x万' : datum.label", "grid": true, "gridColor": "#999999", "gridDash": [1, 2]}},
            "color": {"condition": {"test": "datum.c >= datum.o", "value": "#ff5555"}, "value": "#00a800"}
          }
        },
        {
          "data": {"name": "vma"},
          "mark": {"type": "line", "strokeWidth": 1, "xOffset": -0.5},
          "encoding": {
            "y": {"field": "v", "type": "quantitative"},
            "color": {"field": "s", "type": "nominal", "scale": {"domain": ["MA5", "MA10", "MA30"], "range": ["#000000", "#0000ff", "#ff00ff"]}, "legend": null}
          }
        },
        {
          "data": {"values": [{}]},
          "mark": {"type": "text", "text": "MA5:0", "align": "left", "baseline": "middle", "fontSize": 10, "font": "DejaVu Sans Mono", "color": "#000000", "dx": 5},
          "encoding": {"x": {"datum": "2024-08-29", "bandPosition": 0}, "y": {"datum": 5.6}}
        },
        {
          "data": {"values": [{}]},
          "mark": {"type": "text", "text": "MA10:0", "align": "left", "baseline": "middle", "fontSize": 10, "font": "DejaVu Sans Mono", "color": "#0000ff", "dx": 2},
          "encoding": {"x": {"datum": "2024-10-09", "bandPosition": 0}, "y": {"datum": 5.6}}
        },
        {
          "data": {"values": [{}]},
          "mark": {"type": "text", "text": "MA30:0", "align": "left", "baseline": "middle", "fontSize": 10, "font": "DejaVu Sans Mono", "color": "#ff00ff", "dx": 1},
          "encoding": {"x": {"datum": "2024-11-08", "bandPosition": 0}, "y": {"datum": 5.6}}
        },
        {
          "data": {"values": [{}]},
          "mark": {"type": "text", "text": "Copyright 2025 SINA.COM", "align": "left", "baseline": "middle", "fontSize": 10, "font": "DejaVu Sans Mono", "color": "#555555"},
          "encoding": {"x": {"datum": "2024-08-29", "bandPosition": 0}, "y": {"datum": -0.34}}
        },
        {
          "data": {"values": [{}]},
          "mark": {"type": "text", "text": "http://finance.sina.com.cn", "align": "right", "baseline": "middle", "fontSize": 10, "font": "DejaVu Sans Mono", "color": "#555555", "dx": -1},
          "encoding": {"x": {"datum": "2025-01-09", "bandPosition": 1}, "y": {"datum": -0.34}}
        }
      ]
    }
  ]
}
